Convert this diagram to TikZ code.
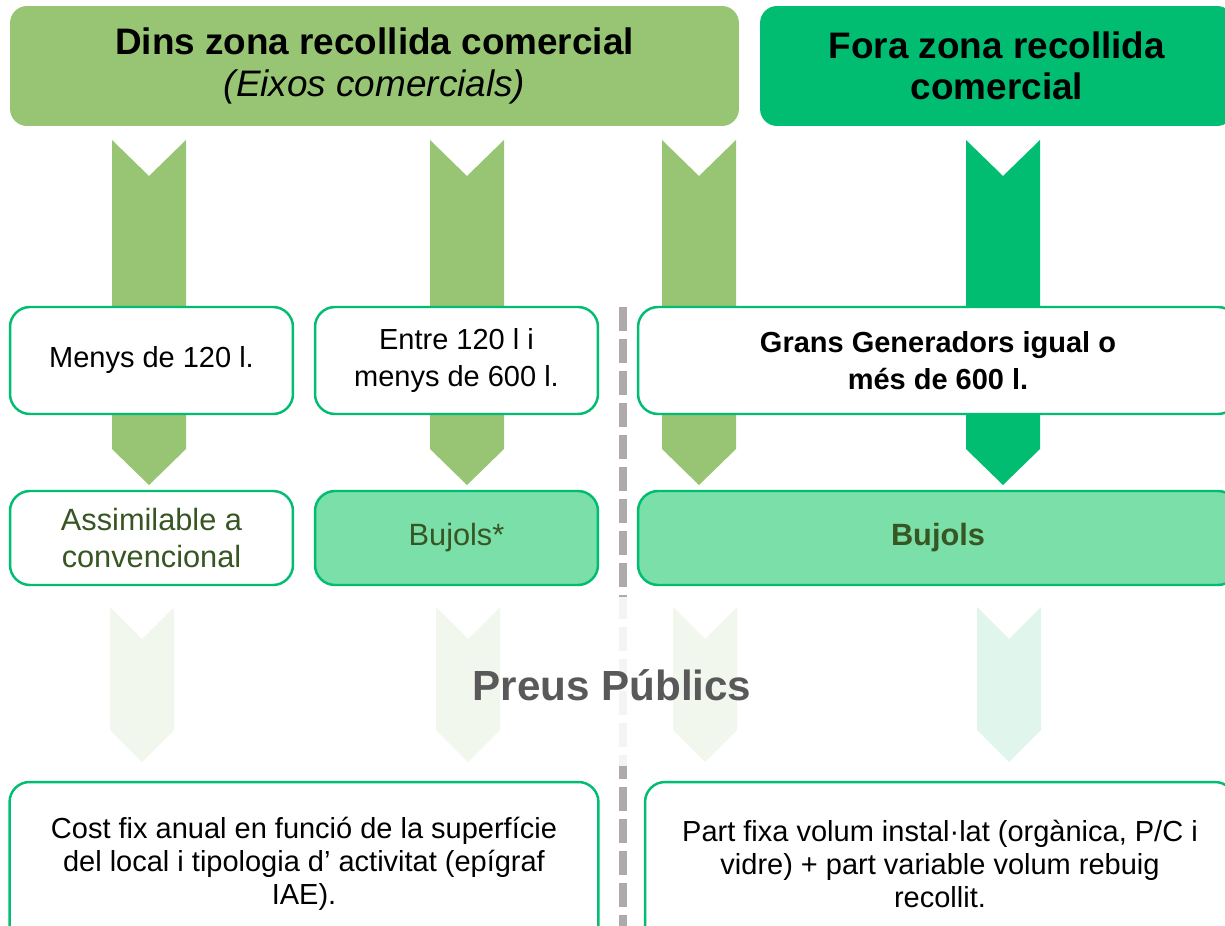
\documentclass[tikz,border=0pt]{standalone}
\usepackage{fontspec}
\setmainfont{Liberation Sans}

\definecolor{lgreen}{HTML}{97C573}
\definecolor{dgreen}{HTML}{00BD71}
\definecolor{mint}{HTML}{7ADFA8}
\definecolor{olive}{HTML}{375623}
\definecolor{dashgray}{HTML}{AEAAAA}
\definecolor{titlegray}{HTML}{595959}

\tikzset{
  hdr/.style={rounded corners=0.34cm, minimum height=2.4cm, inner sep=0pt, align=center,
    font=\fontsize{21}{23.5}\selectfont},
  sizebox/.style={draw=dgreen, line width=1.4pt, fill=white, rounded corners=0.4cm,
    minimum width=5.66cm, minimum height=2.14cm, inner sep=0pt, align=center,
    font=\fontsize{16.5}{21}\selectfont},
  binbox/.style={sizebox, minimum height=1.88cm, text=olive,
    font=\fontsize{17.5}{21}\selectfont},
  feebox/.style={sizebox, minimum width=11.78cm, minimum height=3.26cm,
    font=\fontsize{16.5}{18.8}\selectfont}
}

\begin{document}
\begin{tikzpicture}[x=0.02cm, y=-0.02cm]
    \useasboundingbox (0,0) rectangle (1225,926);

    % Arrows going down from the headers
    \foreach \cx/\col in {149/lgreen, 467/lgreen, 699/lgreen, 1003/dgreen} {
      \fill[\col] ({\cx-37},140) -- (\cx,176) -- ({\cx+37},140) -- ({\cx+37},449)
        -- (\cx,485) -- ({\cx-37},449) -- cycle;
    }

    % Headers
    \node[hdr, fill=lgreen, minimum width=14.58cm] (dins) at (374.5,66)
      {\textbf{Dins zona recollida comercial}\\\textit{(Eixos comercials)}};
    \node[hdr, fill=dgreen, minimum width=9.48cm] (fora) at (997,66)
      {\textbf{Fora zona recollida}\\\textbf{comercial}};

    % Volume boxes
    \node[sizebox] (m1) at (151.5,360.5) {Menys de 120 l.};
    \node[sizebox] (m2) at (456.5,360.5) {Entre 120 l i\\menys de 600 l.};
    \node[sizebox, minimum width=12cm] (m3) at (938,360.5)
      {\textbf{Grans Generadors igual o}\\\textbf{més de 600 l.}};

    % Kind of collection
    \node[binbox] (k1) at (151.5,538) {Assimilable a\\convencional};
    \node[binbox, fill=mint] (k2) at (456.5,538) {Bujols*};
    \node[binbox, fill=mint, minimum width=12cm] (k3) at (938,538) {\textbf{Bujols}};

    % Faded arrows and divider
    \foreach \cx/\col in {142/lgreen, 468/lgreen, 705/lgreen, 1009/dgreen} {
      \fill[\col] ({\cx-32},607) -- (\cx,639) -- ({\cx+32},607) -- ({\cx+32},730)
        -- (\cx,762) -- ({\cx-32},730) -- cycle;
    }
    \coordinate (divtop) at (623,307);
    \coordinate (divbot) at (623,930);
    \draw[dashgray, line width=0.16cm, dash pattern=on 0.48cm off 0.16cm] (divtop) -- (divbot);
    \fill[white, opacity=0.88] (0,597) rectangle (1225,766);

    \node[font=\fontsize{24}{28}\selectfont\bfseries, text=titlegray] (preus) at (612,685)
      {Preus Públics};

    % Fees
    \node[feebox] (f1) at (304,863.5)
      {Cost fix anual en funció de la superfície\\del local i tipologia d’ activitat (epígraf\\IAE).};
    \node[feebox, minimum width=11.8cm] (f2) at (940,863.5)
      {Part fixa volum instal·lat (orgànica, P/C i\\vidre) + part variable volum rebuig\\recollit.};

\end{tikzpicture}
\end{document}
